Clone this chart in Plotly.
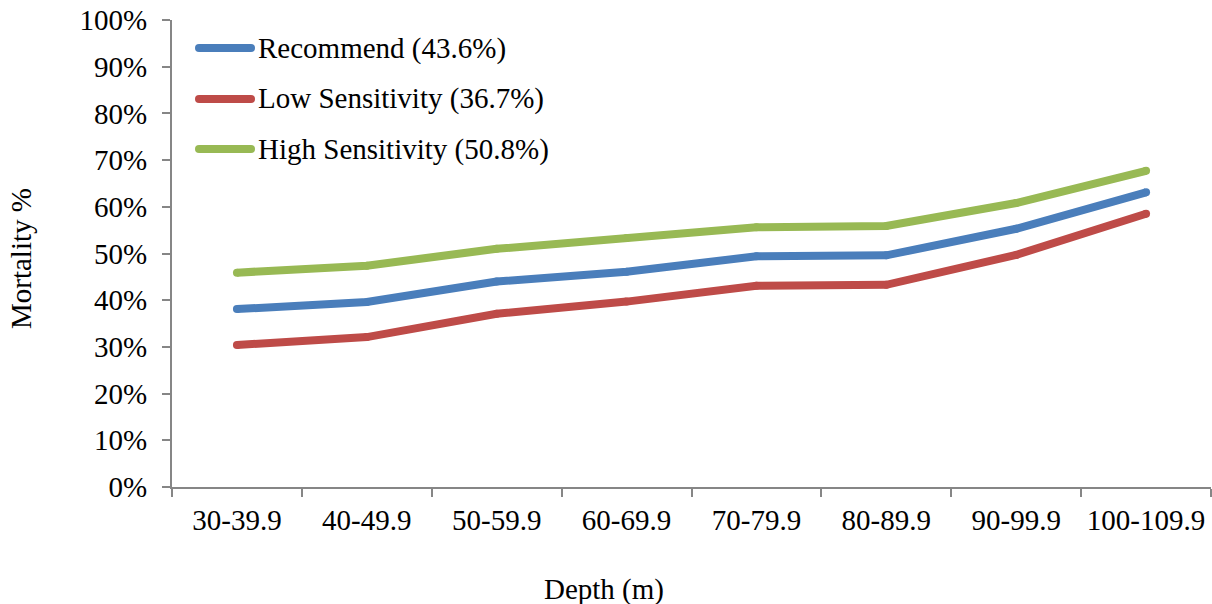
import plotly.graph_objects as go

# Depth bins (m) and mortality (%) per sensitivity scenario
depth_bins = ["30-39.9", "40-49.9", "50-59.9", "60-69.9",
              "70-79.9", "80-89.9", "90-99.9", "100-109.9"]
recommend = [38.1, 39.6, 44.0, 46.1, 49.4, 49.6, 55.3, 63.1]
low_sensitivity = [30.4, 32.1, 37.1, 39.7, 43.1, 43.3, 49.7, 58.5]
high_sensitivity = [45.9, 47.4, 51.0, 53.3, 55.6, 55.9, 60.8, 67.7]

series_names = ["Recommend (43.6%)", "Low Sensitivity (36.7%)", "High Sensitivity (50.8%)"]
series_values = [recommend, low_sensitivity, high_sensitivity]
series_colors = ["#4A7EBB", "#BE4B48", "#98B954"]

y_tick_values = list(range(0, 101, 10))

FONT = "Liberation Serif"
FONT_SIZE = 29
AXIS_GREY = "#868686"
W, H = 1212, 604
L, R, T, B = 172, 1, 20, 117
PLOT_W = W - L - R
PLOT_H = H - T - B


def px_x(px):
    return (px - L) / PLOT_W


def px_y(py):
    return (H - B - py) / PLOT_H


text_font = dict(family=FONT, size=FONT_SIZE, color="black")

fig = go.Figure()
for name, vals, color in zip(series_names, series_values, series_colors):
    fig.add_trace(go.Scatter(
        x=depth_bins, y=vals, name=name, mode="lines+markers",
        line=dict(color=color, width=8),
        marker=dict(color=color, size=8, line=dict(width=0)),
        showlegend=False, cliponaxis=False,
    ))

# Legend drawn as line samples with rounded ends and labels
shapes = []
annotations = []
row_y = [48, 99, 149]
for name, color, ry in zip(series_names, series_colors, row_y):
    yp = px_y(ry)
    shapes.append(dict(type="line", xref="paper", yref="paper",
                       x0=px_x(199), x1=px_x(251), y0=yp, y1=yp,
                       line=dict(color=color, width=8)))
    for cx in (199, 251):
        shapes.append(dict(type="circle", xref="paper", yref="paper",
                           xsizemode="pixel", ysizemode="pixel",
                           xanchor=px_x(cx), yanchor=yp,
                           x0=-4, x1=4, y0=-4, y1=4,
                           fillcolor=color, line=dict(width=0)))
    annotations.append(dict(text=name, xref="paper", yref="paper",
                            x=px_x(256), y=yp, xanchor="left", yanchor="middle",
                            showarrow=False, font=text_font))

annotations.append(dict(text="Mortality %", xref="paper", yref="paper",
                        x=px_x(21), y=px_y(259), textangle=-90,
                        xanchor="center", yanchor="middle", showarrow=False,
                        font=text_font))
annotations.append(dict(text="Depth (m)", xref="paper", yref="paper",
                        x=px_x(604), y=px_y(589),
                        xanchor="center", yanchor="middle", showarrow=False,
                        font=text_font))

fig.update_layout(
    width=W, height=H,
    margin=dict(l=L, r=R, t=T, b=B, pad=0),
    paper_bgcolor="white", plot_bgcolor="white",
    font=text_font,
    shapes=shapes, annotations=annotations,
    xaxis=dict(type="category", range=[-0.5, len(depth_bins) - 0.5],
               showline=True, linecolor=AXIS_GREY, linewidth=2,
               ticks="outside", tickson="boundaries", ticklen=8,
               tickcolor=AXIS_GREY, tickwidth=2, showgrid=False,
               ticklabelstandoff=6, tickfont=text_font),
    yaxis=dict(range=[0, 100], tickmode="array", tickvals=y_tick_values,
               ticktext=[f"{v}%" for v in y_tick_values],
               showline=True, linecolor=AXIS_GREY, linewidth=2,
               ticks="outside", ticklen=8, tickcolor=AXIS_GREY, tickwidth=2,
               showgrid=False, zeroline=False, ticklabelstandoff=9,
               tickfont=text_font),
)

fig.write_html("out.html")
